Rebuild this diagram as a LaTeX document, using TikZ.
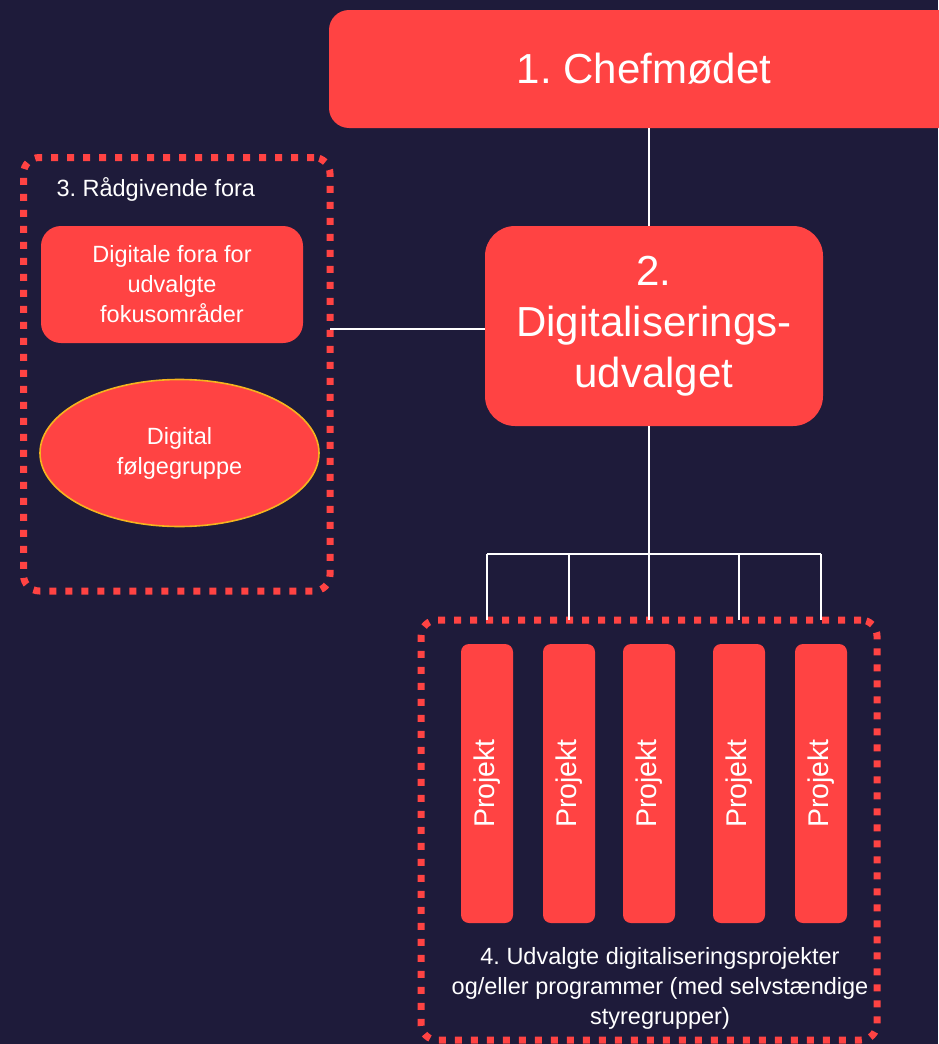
\documentclass[tikz,border=0pt]{standalone}
\usepackage{fontspec}
\setmainfont{Liberation Sans}
\usetikzlibrary{shapes.geometric}
\definecolor{bgnavy}{HTML}{1E1B3A}
\definecolor{boxred}{HTML}{FF4343}
\definecolor{rimgold}{HTML}{F5B41E}
\frenchspacing
\tikzset{
  redbox/.style={fill=boxred, draw=none, text=white, align=center, inner sep=0pt, outer sep=0pt},
  projbox/.style={redbox, rounded corners=8pt, minimum width=52pt, minimum height=279pt,
    font=\fontsize{28.5}{34}\selectfont},
  dotframe/.style={draw=boxred, line width=7pt, dash pattern=on 7pt off 9pt,
    rounded corners=16pt, inner sep=0pt, outer sep=0pt},
  link/.style={draw=white, line width=1.5pt},
  small/.style={font=\fontsize{23.5}{30}\selectfont, text=white, align=center},
  big/.style={font=\fontsize{42}{51}\selectfont}
}
\begin{document}
\begin{tikzpicture}[x=1pt, y=-1pt]
  \fill[bgnavy] (0,0) rectangle (938,1044);
  \useasboundingbox (0,0) rectangle (938,1044);

  % top level
  \node[redbox, big, rounded corners=20pt, minimum width=630pt, minimum height=118pt]
    (chef) at (644,69) {1. Chefmødet};

  % digitalisation committee
  \node[redbox, big, rounded corners=30pt, minimum width=338pt, minimum height=200pt]
    (udv) at (654,326) {2.\\Digitaliserings-\\udvalget};

  % advisory fora
  \node[dotframe, minimum width=306.5pt, minimum height=433.5pt] (raad) at (176.75,374.25) {};
  \node[small, anchor=west] (raadlbl) at (53,189) {3. Rådgivende fora};
  \node[redbox, small, rounded corners=20pt, minimum width=262pt, minimum height=117pt]
    (fora) at (172,284.5) {Digitale fora for\\udvalgte\\fokusområder};
  \node[ellipse, fill=boxred, draw=rimgold, line width=1.6pt, small, inner sep=0pt,
    minimum width=279pt, minimum height=147pt] (folg) at (179.5,453) {Digital\\følgegruppe};

  % projects
  \node[dotframe, minimum width=456pt, minimum height=420pt] (projfr) at (649,830) {};
  \node[projbox] (p1) at (487,783.5) {\rotatebox{90}{Projekt}};
  \node[projbox] (p2) at (569,783.5) {\rotatebox{90}{Projekt}};
  \node[projbox] (p3) at (649,783.5) {\rotatebox{90}{Projekt}};
  \node[projbox] (p4) at (739,783.5) {\rotatebox{90}{Projekt}};
  \node[projbox] (p5) at (821,783.5) {\rotatebox{90}{Projekt}};
  \node[small] (projlbl) at (660,988)
    {4. Udvalgte digitaliseringsprojekter\\og/eller programmer (med selvstændige\\styregrupper)};

  % connectors
  \coordinate (bus) at (649,554);
  \coordinate (side) at (0,329);
  \draw[link] (udv.north -| p3.north) -- (chef.south -| p3.north);
  \draw[link] (udv.west |- side) -- (raad.east |- side);
  \draw[link] (udv.south -| p3.north) -- (bus);
  \draw[link] (p1.north |- bus) -- (p5.north |- bus);
  \foreach \p in {p1,p2,p3,p4,p5}
    \draw[link] (\p.north |- bus) -- (\p.north |- projfr.north);
\end{tikzpicture}
\end{document}
